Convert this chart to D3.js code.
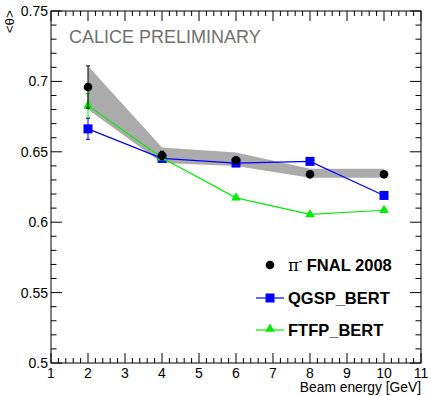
<!DOCTYPE html>
<html>
<head>
<meta charset="utf-8">
<script src="https://cdn.jsdelivr.net/npm/d3@7"></script>
<style>
  html, body { margin: 0; padding: 0; background: #fff; }
  svg { display: block; font-family: "Liberation Sans", Arial, Helvetica, sans-serif; }
</style>
</head>
<body>
<svg id="chart" width="431" height="396"></svg>
<script>
// Mean shower angle <θ> versus beam energy
const energies = [2, 4, 6, 8, 10];

// π- data, FNAL 2008
const dataMean = [0.696, 0.6474, 0.644, 0.634, 0.634];
const dataErr  = [0.015, 0.003, 0.002, 0.002, 0.002];
// systematic band around the data
const bandHigh = [0.711, 0.653, 0.6495, 0.638, 0.638];
const bandLow  = [0.680, 0.642, 0.640, 0.6315, 0.6315];

// Simulation: QGSP_BERT
const qgspMean = [0.6663, 0.6453, 0.642, 0.6432, 0.619];
const qgspErr  = [0.0075, 0.001, 0.001, 0.001, 0.001];

// Simulation: FTFP_BERT
const ftfpMean = [0.6828, 0.6458, 0.6173, 0.6055, 0.6085];
const ftfpErr  = [0.0085, 0.001, 0.001, 0.001, 0.001];

const xTicks = [1, 2, 3, 4, 5, 6, 7, 8, 9, 10, 11];
const yTicks = [0.5, 0.55, 0.6, 0.65, 0.7, 0.75];
const yTickLabels = ["0.5", "0.55", "0.6", "0.65", "0.7", "0.75"];

const L = 51, R = 421, T = 11, B = 363;
const svg = d3.select("#chart");
const x = d3.scaleLinear().domain([1, 11]).range([L, R]);
const y = d3.scaleLinear().domain([0.5, 0.75]).range([B, T]);

// systematic band
const band = d3.area()
  .x((d, i) => x(energies[i]))
  .y0(d => y(d[0]))
  .y1(d => y(d[1]));
svg.append("path")
  .datum(bandLow.map((v, i) => [v, bandHigh[i]]))
  .attr("d", band)
  .attr("fill", "#ababab");

const line = d3.line().x((d, i) => x(energies[i])).y(d => y(d));

function errorBars(vals, errs, color, width) {
  const g = svg.append("g");
  vals.forEach((v, i) => {
    const cx = x(energies[i]);
    g.append("line").attr("x1", cx).attr("x2", cx)
      .attr("y1", y(v - errs[i])).attr("y2", y(v + errs[i]))
      .attr("stroke", color).attr("stroke-width", 1);
    [v - errs[i], v + errs[i]].forEach(e => {
      g.append("line").attr("x1", cx - width).attr("x2", cx + width)
        .attr("y1", y(e)).attr("y2", y(e))
        .attr("stroke", color).attr("stroke-width", 1);
    });
  });
}

// QGSP_BERT
svg.append("path").datum(qgspMean).attr("d", line)
  .attr("fill", "none").attr("stroke", "#0000ff").attr("stroke-width", 1.2);
errorBars(qgspMean, qgspErr, "#0000ff", 2);
svg.append("g").selectAll("rect").data(qgspMean).join("rect")
  .attr("x", (d, i) => x(energies[i]) - 4.5)
  .attr("y", d => y(d) - 4.5)
  .attr("width", 9).attr("height", 9)
  .attr("fill", "#0000ff");

// FTFP_BERT
svg.append("path").datum(ftfpMean).attr("d", line)
  .attr("fill", "none").attr("stroke", "#00ee00").attr("stroke-width", 1.2);
errorBars(ftfpMean, ftfpErr, "#00ee00", 2);
const tri = d3.symbol().type(d3.symbolTriangle).size(40);
svg.append("g").selectAll("path").data(ftfpMean).join("path")
  .attr("d", tri)
  .attr("transform", (d, i) => `translate(${x(energies[i])},${y(d)})`)
  .attr("fill", "#00ee00");

// data
errorBars(dataMean, dataErr, "#000", 2);
svg.append("g").selectAll("circle").data(dataMean).join("circle")
  .attr("cx", (d, i) => x(energies[i]))
  .attr("cy", d => y(d))
  .attr("r", 4.3)
  .attr("fill", "#000");

// frame and ticks
const axisG = svg.append("g").attr("stroke", "#000").attr("stroke-width", 1);
axisG.append("rect").attr("x", L).attr("y", T).attr("width", R - L).attr("height", B - T)
  .attr("fill", "none");

const xMinor = d3.range(1, 11.001, 0.2);
xMinor.forEach(v => {
  const major = Math.abs(v - Math.round(v)) < 1e-6;
  const len = major ? 10 : 5;
  axisG.append("line").attr("x1", x(v)).attr("x2", x(v)).attr("y1", B).attr("y2", B - len);
  axisG.append("line").attr("x1", x(v)).attr("x2", x(v)).attr("y1", T).attr("y2", T + len);
});
const yMinor = d3.range(0.5, 0.7501, 0.01);
yMinor.forEach((v, i) => {
  const major = i % 5 === 0;
  const len = major ? 11 : 5.5;
  axisG.append("line").attr("x1", L).attr("x2", L + len).attr("y1", y(v)).attr("y2", y(v));
  axisG.append("line").attr("x1", R).attr("x2", R - len).attr("y1", y(v)).attr("y2", y(v));
});

// tick labels
svg.append("g").selectAll("text").data(xTicks).join("text")
  .attr("x", d => x(d)).attr("y", B + 15)
  .attr("text-anchor", "middle")
  .attr("font-size", 14).attr("fill", "#000")
  .text(d => d);
svg.append("g").selectAll("text").data(yTicks).join("text")
  .attr("x", L - 3).attr("y", d => y(d) + 5)
  .attr("text-anchor", "end")
  .attr("font-size", 14).attr("fill", "#000")
  .text((d, i) => yTickLabels[i]);

// axis titles
svg.append("text")
  .attr("x", R).attr("y", 392)
  .attr("text-anchor", "end")
  .attr("font-size", 13.8).attr("fill", "#000")
  .text("Beam energy [GeV]");
svg.append("text")
  .attr("transform", "translate(14,10) rotate(-90)")
  .attr("text-anchor", "end")
  .attr("font-size", 13.5).attr("fill", "#000")
  .text("<θ>");

// label
svg.append("text")
  .attr("x", 69).attr("y", 43)
  .attr("font-size", 18).attr("fill", "#707070")
  .text("CALICE PRELIMINARY");

// legend
const leg = svg.append("g");
const lx = 270;
leg.append("circle").attr("cx", lx).attr("cy", 265).attr("r", 4.3).attr("fill", "#000");
const t1 = leg.append("text").attr("x", 288).attr("y", 271)
  .attr("font-size", 16.5).attr("font-weight", "bold").attr("fill", "#000");
t1.append("tspan").attr("font-family", "'DejaVu Serif', 'Liberation Serif', serif").attr("font-weight", "normal").text("π");
t1.append("tspan").attr("dy", -7).attr("font-size", 10).text("-");
t1.append("tspan").attr("dy", 7).text(" FNAL 2008");

leg.append("line").attr("x1", 256).attr("x2", 284).attr("y1", 298).attr("y2", 298)
  .attr("stroke", "#0000ff").attr("stroke-width", 1.2);
leg.append("rect").attr("x", lx - 4.5).attr("y", 293.5).attr("width", 9).attr("height", 9).attr("fill", "#0000ff");
leg.append("text").attr("x", 288).attr("y", 304)
  .attr("font-size", 16.5).attr("font-weight", "bold").attr("fill", "#000").text("QGSP_BERT");

leg.append("line").attr("x1", 256).attr("x2", 284).attr("y1", 330).attr("y2", 330)
  .attr("stroke", "#00ee00").attr("stroke-width", 1.2);
leg.append("path").attr("d", tri).attr("transform", `translate(${lx},329)`).attr("fill", "#00ee00");
leg.append("text").attr("x", 288).attr("y", 336)
  .attr("font-size", 16.5).attr("font-weight", "bold").attr("fill", "#000").text("FTFP_BERT");
</script>
</body>
</html>
